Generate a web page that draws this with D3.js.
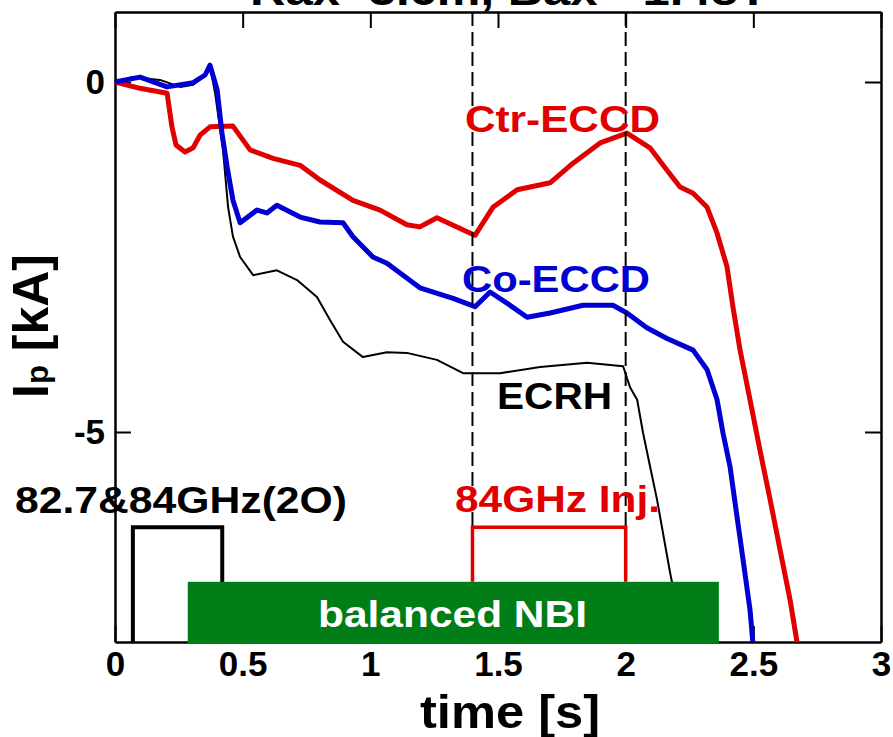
<!DOCTYPE html>
<html>
<head>
<meta charset="utf-8">
<script src="https://cdn.jsdelivr.net/npm/d3@7/dist/d3.min.js"></script>
<style>
  html, body { margin: 0; padding: 0; background: #fff; }
  svg { display: block; font-family: Arial, "Liberation Sans", sans-serif; font-weight: bold; }
</style>
</head>
<body>
<svg id="chart" width="893" height="737"></svg>
<script>
// Plasma current Ip [kA] versus time [s] for three heating scenarios
const ctrTime = [0, 0.098, 0.204, 0.223, 0.239, 0.274, 0.306, 0.333, 0.372, 0.462, 0.529, 0.619, 0.725, 0.803, 0.932, 1.038, 1.143, 1.194, 1.261, 1.379, 1.41, 1.48, 1.575, 1.704, 1.794, 1.90, 2.005, 2.095, 2.162, 2.213, 2.264, 2.319, 2.358, 2.397, 2.42, 2.448, 2.487, 2.526, 2.566, 2.605, 2.644, 2.671];
const ctrIp = [0, -0.09, -0.16, -0.64, -0.90, -1.00, -0.94, -0.76, -0.64, -0.63, -0.97, -1.09, -1.19, -1.40, -1.69, -1.83, -2.04, -2.07, -1.94, -2.14, -2.19, -1.79, -1.54, -1.44, -1.16, -0.87, -0.73, -0.94, -1.26, -1.50, -1.59, -1.79, -2.16, -2.64, -3.21, -3.83, -4.54, -5.26, -5.97, -6.69, -7.40, -8.0];

const coTime = [0, 0.098, 0.204, 0.306, 0.353, 0.372, 0.40, 0.419, 0.439, 0.462, 0.49, 0.556, 0.595, 0.634, 0.725, 0.803, 0.893, 0.932, 1.01, 1.065, 1.194, 1.324, 1.41, 1.469, 1.535, 1.614, 1.704, 1.833, 1.95, 2.005, 2.083, 2.16, 2.264, 2.319, 2.358, 2.381, 2.409, 2.436, 2.46, 2.487, 2.498];
const coIp = [0, 0.07, -0.07, -0.01, 0.10, 0.24, -0.11, -0.73, -1.21, -1.69, -2.01, -1.83, -1.87, -1.76, -1.93, -2.00, -2.01, -2.21, -2.50, -2.59, -2.94, -3.09, -3.21, -3.00, -3.16, -3.36, -3.30, -3.19, -3.19, -3.30, -3.51, -3.66, -3.83, -4.11, -4.54, -5.01, -5.50, -6.21, -6.83, -7.54, -8.0];

const ecrhTime = [0, 0.066, 0.176, 0.255, 0.306, 0.353, 0.372, 0.392, 0.423, 0.443, 0.462, 0.49, 0.541, 0.634, 0.713, 0.791, 0.842, 0.893, 0.971, 1.065, 1.143, 1.261, 1.363, 1.508, 1.665, 1.849, 1.99, 2.017, 2.045, 2.068, 2.096, 2.123, 2.146, 2.174, 2.19];
const ecrhIp = [0, 0.07, 0.03, -0.07, -0.04, 0.10, 0.24, -0.16, -0.97, -1.79, -2.21, -2.50, -2.76, -2.69, -2.83, -3.07, -3.40, -3.71, -3.93, -3.86, -3.87, -3.97, -4.16, -4.16, -4.07, -4.01, -4.06, -4.36, -4.54, -5.01, -5.50, -5.97, -6.44, -7.01, -7.30];

// Pulse timing windows [s]
const ecrhPulse = [0.07, 0.42];
const injWindow = [1.4, 2.0];
const nbiPulse = [0.285, 2.365];

const xTicks = [0, 0.5, 1, 1.5, 2, 2.5, 3];
const xTickLabels = ["0", "0.5", "1", "1.5", "2", "2.5", "3"];
const yTicks = [0, -5];
const yTickLabels = ["0", "-5"];

const RED = "#e00000", BLUE = "#0000d2", GREEN = "#007d16";

const svg = d3.select("#chart");
const L = 115, R = 881, T = 12, B = 642;
const x = d3.scaleLinear().domain([0, 3]).range([L, R]);
const y = d3.scaleLinear().domain([-8, 1]).range([B, T]);

// Title (runs off the top edge)
svg.append("text").attr("x", 250).attr("y", 5)
  .attr("font-size", 42).attr("textLength", 518).attr("lengthAdjust", "spacingAndGlyphs")
  .text("Rax=3.6m, Bax=-1.48T");

// Axes with inward ticks
const gx = svg.append("g").attr("transform", `translate(0,${B})`)
  .call(d3.axisBottom(x).tickValues(xTicks).tickFormat((d, i) => xTickLabels[i])
    .tickSizeInner(-16).tickSizeOuter(0).tickPadding(9));
const gxt = svg.append("g").attr("transform", `translate(0,${T})`)
  .call(d3.axisTop(x).tickValues(xTicks).tickFormat("").tickSizeInner(-16).tickSizeOuter(0));
const gy = svg.append("g").attr("transform", `translate(${L},0)`)
  .call(d3.axisLeft(y).tickValues(yTicks).tickFormat((d, i) => yTickLabels[i])
    .tickSizeInner(-16).tickSizeOuter(0).tickPadding(10));
const gyr = svg.append("g").attr("transform", `translate(${R},0)`)
  .call(d3.axisRight(y).tickValues(yTicks).tickFormat("").tickSizeInner(-16).tickSizeOuter(0));
[gx, gxt, gy, gyr].forEach(g => {
  g.select(".domain").attr("stroke", "#000").attr("stroke-width", 2.5);
  g.selectAll(".tick line").attr("stroke", "#000").attr("stroke-width", 2);
  g.selectAll(".tick text").attr("font-size", 35).attr("font-weight", "bold")
    .attr("font-family", "Arial, 'Liberation Sans', sans-serif").attr("fill", "#000");
});

// Axis titles
svg.append("text").attr("x", 510).attr("y", 728).attr("text-anchor", "middle")
  .attr("font-size", 46).attr("textLength", 180).attr("lengthAdjust", "spacingAndGlyphs")
  .text("time [s]");
const yt = svg.append("text").attr("transform", "translate(48,326) rotate(-90)")
  .attr("text-anchor", "middle").attr("font-size", 50);
yt.append("tspan").text("I");
yt.append("tspan").attr("font-size", 31).text("p");
yt.append("tspan").text(" [kA]");

// Current traces
const line = d3.line().x(d => x(d[0])).y(d => y(d[1]));
const traces = [
  { t: ecrhTime, v: ecrhIp, color: "#000", w: 2 },
  { t: ctrTime, v: ctrIp, color: RED, w: 5 },
  { t: coTime, v: coIp, color: BLUE, w: 5 }
];
traces.forEach(s => {
  svg.append("path").datum(s.t.map((t, i) => [t, s.v[i]]))
    .attr("d", line).attr("fill", "none").attr("stroke", s.color)
    .attr("stroke-width", s.w).attr("stroke-linejoin", "round");
});

// Injection window markers
injWindow.forEach(t => {
  svg.append("line").attr("x1", x(t)).attr("x2", x(t)).attr("y1", T).attr("y2", y(-6.35))
    .attr("stroke", "#000").attr("stroke-width", 2).attr("stroke-dasharray", "14,6");
});

// ECRH pulse box
const boxTop = y(-6.36);
svg.append("path")
  .attr("d", `M${x(ecrhPulse[0])},${B}V${boxTop}H${x(ecrhPulse[1])}V${B}`)
  .attr("fill", "none").attr("stroke", "#000").attr("stroke-width", 4);

// 84 GHz injection bracket
const nbiTop = y(-7.14);
svg.append("path")
  .attr("d", `M${x(injWindow[0])},${nbiTop}V${boxTop}H${x(injWindow[1])}V${nbiTop}`)
  .attr("fill", "none").attr("stroke", RED).attr("stroke-width", 3.5);

// NBI bar
svg.append("rect").attr("x", x(nbiPulse[0])).attr("y", nbiTop)
  .attr("width", x(nbiPulse[1]) - x(nbiPulse[0])).attr("height", B + 2 - nbiTop)
  .attr("fill", GREEN);

// Annotations
const notes = [
  { text: "Ctr-ECCD", x: 465, y: 132, len: 195, color: RED },
  { text: "Co-ECCD", x: 462, y: 292, len: 188, color: BLUE },
  { text: "ECRH", x: 497, y: 409, len: 115, color: "#000" },
  { text: "84GHz Inj.", x: 455, y: 512, len: 205, color: RED },
  { text: "82.7&84GHz(2O)", x: 15, y: 513, len: 332, color: "#000" },
  { text: "balanced NBI", x: 318, y: 627, len: 269, color: "#fff" }
];
notes.forEach(n => {
  svg.append("text").attr("x", n.x).attr("y", n.y).attr("fill", n.color)
    .attr("font-size", 37).attr("textLength", n.len).attr("lengthAdjust", "spacingAndGlyphs")
    .text(n.text);
});
</script>
</body>
</html>
